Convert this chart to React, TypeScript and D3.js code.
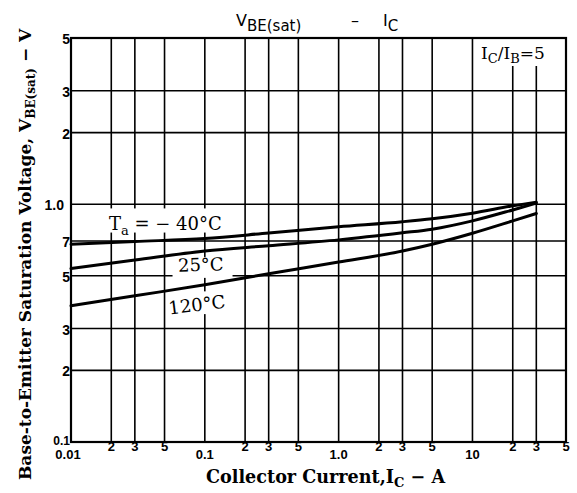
import React from 'react';
import * as d3 from 'd3';

// Collector current (A) sample points
const icPoints = [0.01, 0.03, 0.1, 0.3, 1, 3, 5, 10, 20, 30];
// V_BE(sat) (V) per temperature
const vMinus40 = [0.679, 0.697, 0.717, 0.757, 0.804, 0.844, 0.869, 0.917, 0.984, 1.02];
const v25 = [0.536, 0.582, 0.636, 0.669, 0.708, 0.758, 0.785, 0.851, 0.946, 1.01];
const v120 = [0.374, 0.412, 0.458, 0.51, 0.571, 0.636, 0.679, 0.755, 0.851, 0.914];

const xTicks = [0.01, 0.02, 0.03, 0.05, 0.1, 0.2, 0.3, 0.5, 1, 2, 3, 5, 10, 20, 30, 50];
const xTickLabels = ['0.01', '2', '3', '5', '0.1', '2', '3', '5', '1.0', '2', '3', '5', '10', '2', '3', '5'];
const yTicks = [0.1, 0.2, 0.3, 0.5, 0.7, 1, 2, 3, 5];
const yTickLabels = ['0.1', '2', '3', '5', '7', '1.0', '2', '3', '5'];

const W = 577;
const H = 493;
const left = 71;
const right = 566;
const top = 38;
const bottom = 442;

const serif = '"DejaVu Serif", "Liberation Serif", serif';
const sans = '"Liberation Sans", Arial, sans-serif';

export default function App() {
  const x = d3.scaleLog().domain([0.01, 50]).range([left, right]);
  const y = d3.scaleLog().domain([0.1, 5]).range([bottom, top]);

  const line = d3
    .line<number>()
    .x((_, i) => x(icPoints[i]))
    .y((d) => y(d))
    .curve(d3.curveMonotoneX);

  const isDecade = (v: number) => [0.01, 0.1, 1, 10].includes(v);

  return (
    <svg
      width={W}
      height={H}
      style={{ position: 'absolute', left: 0, top: 0, background: '#fff' }}
    >
      {/* grid */}
      <g stroke="#000" strokeWidth={1.6}>
        {xTicks.map((t) => (
          <line key={'gx' + t} x1={x(t)} x2={x(t)} y1={top} y2={bottom} />
        ))}
        {yTicks.map((t) => (
          <line key={'gy' + t} x1={left} x2={right} y1={y(t)} y2={y(t)} />
        ))}
      </g>

      {/* label backgrounds hide the grid */}
      <rect x={x(0.0245) - 14} y={y(0.96)} width={126} height={y(0.76) - y(0.96)} fill="#fff" />
      <rect x={x(0.05) + 8} y={y(0.6)} width={60} height={y(0.49) - y(0.6)} fill="#fff" />
      <rect x={x(0.05) + 2} y={y(0.43)} width={66} height={y(0.345) - y(0.43)} fill="#fff" />
      <rect x={x(10) + 3} y={top + 1} width={right - x(10) - 4} height={27} fill="#fff" />

      {/* curves */}
      <g fill="none" stroke="#000" strokeWidth={3} strokeLinecap="round">
        <path d={line(vMinus40) || ''} />
        <path d={line(v25) || ''} />
        <path d={line(v120) || ''} />
      </g>

      {/* frame */}
      <rect x={left} y={top} width={right - left} height={bottom - top} fill="none" stroke="#000" strokeWidth={2.2} />

      {/* curve labels */}
      <g fontFamily={serif} fontSize={18} fill="#000">
        <text x={109} y={230}>
          T<tspan fontSize={13} dy={5}>a</tspan>
          <tspan dy={-5}> = − 40°C</tspan>
        </text>
        <text x={178} y={271} transform="rotate(-2 200 265)">25°C</text>
        <text x={168} y={311} transform="rotate(-7 197 302)">120°C</text>
      </g>

      <text x={481} y={59} fontFamily={serif} fontSize={17}>
        I<tspan fontSize={13} dy={4}>C</tspan>
        <tspan dy={-4}>/I</tspan>
        <tspan fontSize={13} dy={4}>B</tspan>
        <tspan dy={-4}>=5</tspan>
      </text>

      {/* title */}
      <text x={236} y={26} fontFamily='"DejaVu Sans", sans-serif' fontSize={16}>
        V<tspan dy={5} fontSize={15}>BE(sat)</tspan>
        <tspan dy={-5} x={351}>–</tspan>
        <tspan x={383}>I</tspan>
        <tspan dy={5} fontSize={15}>C</tspan>
      </text>

      {/* x tick labels */}
      <g fontFamily={sans} fontWeight="bold" fontSize={13} textAnchor="middle">
        {xTicks.map((t, i) => (
          <text key={'xl' + t} x={t === 0.01 ? x(t) - 3 : x(t)} y={isDecade(t) ? 459 : 451}>
            {xTickLabels[i]}
          </text>
        ))}
      </g>

      {/* y tick labels */}
      <g fontFamily={sans} fontWeight="bold" fontSize={14} textAnchor="end">
        {yTicks.map((t, i) => (
          <text
            key={'yl' + t}
            x={t === 1 ? 64 : 70}
            y={t === 0.1 ? y(t) + 3 : y(t) + 6}
            fontSize={t === 0.1 ? 12 : 14}
          >
            {yTickLabels[i]}
          </text>
        ))}
      </g>

      {/* axis titles */}
      <text x={206} y={483} fontFamily={serif} fontWeight="bold" fontSize={17.6}>
        Collector Current,I<tspan fontSize={13} dy={4}>C</tspan>
        <tspan dy={-4}> − A</tspan>
      </text>
      <text
        transform="translate(31, 480) rotate(-90)"
        fontFamily={serif}
        fontWeight="bold"
        fontSize={17}
      >
        Base-to-Emitter Saturation Voltage, V<tspan fontSize={12} dy={4}>BE(sat)</tspan>
        <tspan dy={-4}> − V</tspan>
      </text>
    </svg>
  );
}
